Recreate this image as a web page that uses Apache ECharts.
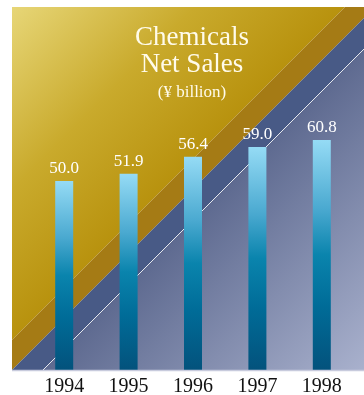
<!DOCTYPE html>
<html>
<head>
<meta charset="utf-8">
<style>
  html, body { margin: 0; padding: 0; background: #ffffff; }
  #chart { width: 364px; height: 395px; }
</style>
<script src="https://cdn.jsdelivr.net/npm/echarts@6/dist/echarts.min.js"></script>
</head>
<body>
<div id="chart"></div>
<script>
// Fiscal years and chemicals net sales (¥ billion)
const years = ['1994', '1995', '1996', '1997', '1998'];
const netSales = [50.0, 51.9, 56.4, 59.0, 60.8];

const serif = '"Liberation Serif", "DejaVu Serif", serif';

// Backdrop panel: diagonal gold / dark gold / navy / slate bands
const P = { x0: 12, y0: 7, x1: 364, y1: 370 };
const d1 = 352, d2 = 382, d3 = 413; // band edges along x + y = d

function backdrop() {
  const els = [];
  els.push({
    type: 'polygon', z: -10, silent: true,
    shape: { points: [[P.x0, P.y0], [d1 - P.y0, P.y0], [P.x0, d1 - P.x0]] },
    style: { fill: new echarts.graphic.LinearGradient(0, 0, 0.5, 0.5, [
      { offset: 0, color: '#e7d677' },
      { offset: 0.55, color: '#c9aa2c' },
      { offset: 1, color: '#b8920e' }
    ]) }
  });
  els.push({
    type: 'polygon', z: -10, silent: true,
    shape: { points: [[d1 - P.y0, P.y0], [P.x1, P.y0], [P.x1, d2 - P.x1], [d2 - P.y1, P.y1], [P.x0, P.y1], [P.x0, d1 - P.x0]] },
    style: { fill: '#a57b15' }
  });
  els.push({
    type: 'polygon', z: -10, silent: true,
    shape: { points: [[P.x1, d2 - P.x1], [P.x1, d3 - P.x1], [d3 - P.y1, P.y1], [d2 - P.y1, P.y1]] },
    style: { fill: '#485a86' }
  });
  els.push({
    type: 'polygon', z: -10, silent: true,
    shape: { points: [[P.x1, d3 - P.x1], [P.x1, P.y1], [d3 - P.y1, P.y1]] },
    style: { fill: new echarts.graphic.LinearGradient(0.5, 0.5, 1, 1, [
      { offset: 0, color: '#5e6a90' },
      { offset: 1, color: '#a9b1cd' }
    ]) }
  });
  els.push({
    type: 'line', z: -9, silent: true,
    shape: { x1: d3 - P.y1, y1: P.y1, x2: P.x1, y2: d3 - P.x1 },
    style: { stroke: 'rgba(255,255,255,0.8)', lineWidth: 1 }
  });
  // light baseline along the bottom of the panel
  els.push({
    type: 'line', z: 5, silent: true,
    shape: { x1: P.x0, y1: P.y1 + 0.5, x2: P.x1, y2: P.y1 + 0.5 },
    style: { stroke: '#c8cbdd', lineWidth: 1.5 }
  });
  return els;
}

const chart = echarts.init(document.getElementById('chart'), null, { renderer: 'canvas' });

chart.setOption({
  animation: false,
  backgroundColor: '#ffffff',
  title: {
    text: 'Chemicals\nNet Sales',
    subtext: '(¥ billion)',
    left: 187,
    top: 19,
    textAlign: 'center',
    itemGap: 5,
    textStyle: { fontFamily: serif, fontSize: 27, lineHeight: 27, fontWeight: 'normal', color: '#fffbea' },
    subtextStyle: { fontFamily: serif, fontSize: 17, lineHeight: 20, color: '#fffbea' }
  },
  graphic: { elements: backdrop() },
  grid: { left: 32, right: 10, top: 7, bottom: 25, containLabel: false, outerBoundsMode: 'none' },
  xAxis: {
    type: 'category',
    data: years,
    boundaryGap: true,
    axisLine: { show: false },
    axisTick: { show: false },
    axisLabel: { fontFamily: serif, fontSize: 20, color: '#111111', margin: 7 }
  },
  yAxis: {
    type: 'value', min: 0, max: 96,
    show: false,
    splitLine: { show: false }
  },
  series: [{
    type: 'bar',
    data: netSales,
    barWidth: 18,
    z: 2,
    itemStyle: {
      color: new echarts.graphic.LinearGradient(0, 0, 0, 1, [
        { offset: 0, color: '#95dbf5' },
        { offset: 0.3, color: '#4aa9d0' },
        { offset: 0.5, color: '#0a84ad' },
        { offset: 0.72, color: '#006c98' },
        { offset: 1, color: '#03527c' }
      ])
    },
    label: {
      show: true,
      position: 'top',
      distance: 4,
      fontFamily: serif,
      fontSize: 17,
      color: '#ffffff',
      formatter: p => p.value.toFixed(1)
    }
  }]
});
</script>
</body>
</html>
